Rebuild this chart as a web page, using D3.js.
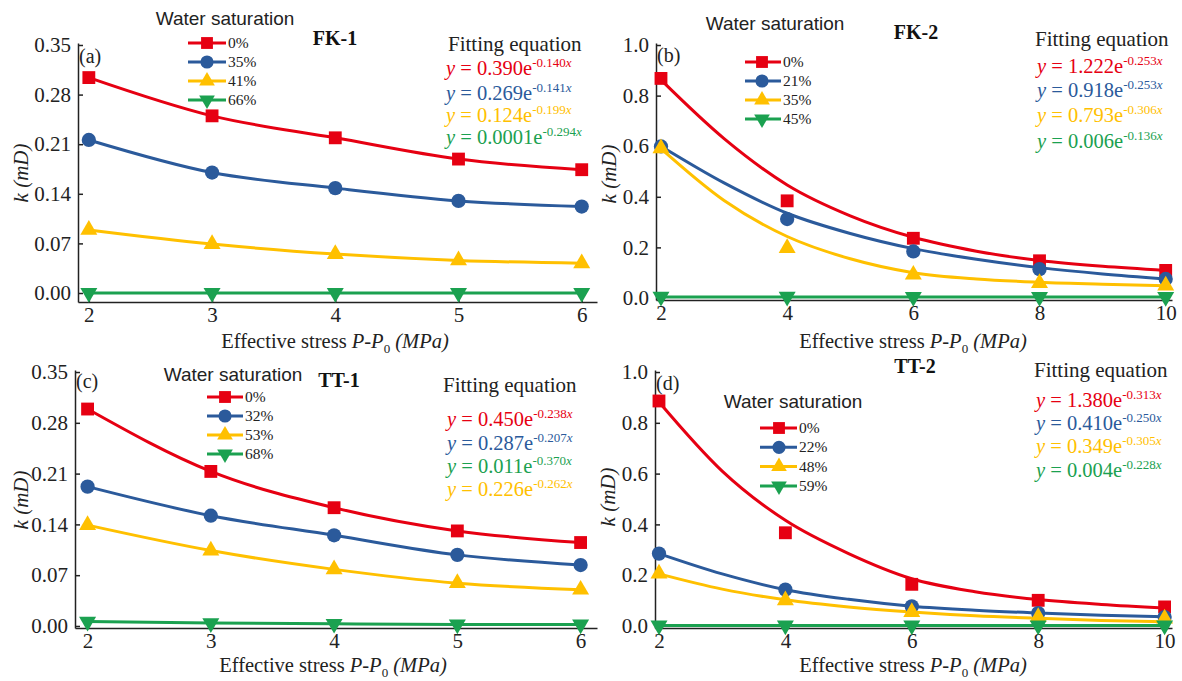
<!DOCTYPE html>
<html>
<head>
<meta charset="utf-8">
<script src="https://cdn.jsdelivr.net/npm/d3@7"></script>
<style>
    body { margin: 0; background: #fff; }
    svg { display: block; }
</style>
</head>
<body>
<script>
// permeability vs effective stress, four cores, four water saturations each

// stress steps on the x axis
var stressShort = [2, 3, 4, 5, 6];
var stressLong = [2, 4, 6, 8, 10];
var fitStress = [2, 3, 4, 5, 6, 7, 8, 9, 10];

// legend labels (water saturation)
var satFK1 = ["0%", "35%", "41%", "66%"];
var satFK2 = ["0%", "21%", "35%", "45%"];
var satTT1 = ["0%", "32%", "53%", "68%"];
var satTT2 = ["0%", "22%", "48%", "59%"];

// measured k (mD), one row per saturation
var kFK1 = [
    [0.304, 0.250, 0.219, 0.189, 0.174],
    [0.216, 0.170, 0.148, 0.130, 0.122],
    [0.089, 0.069, 0.055, 0.046, 0.042],
    [0.000, 0.000, 0.000, 0.000, 0.000]
];
var kFK2 = [
    [0.868, 0.384, 0.236, 0.147, 0.109],
    [0.599, 0.312, 0.184, 0.114, 0.075],
    [0.592, 0.197, 0.092, 0.059, 0.049],
    [0.005, 0.005, 0.004, 0.004, 0.004]
];
var kTT1 = [
    [0.299, 0.213, 0.163, 0.131, 0.115],
    [0.192, 0.152, 0.125, 0.098, 0.084],
    [0.139, 0.104, 0.078, 0.059, 0.050],
    [0.006, 0.004, 0.003, 0.002, 0.002]
];
var kTT2 = [
    [0.886, 0.367, 0.164, 0.101, 0.075],
    [0.285, 0.143, 0.077, 0.051, 0.035],
    [0.206, 0.101, 0.055, 0.035, 0.029],
    [0.002, 0.002, 0.002, 0.002, 0.002]
];

var fitFK2 = [
    [0.862, 0.630, 0.447, 0.325, 0.240, 0.185, 0.148, 0.125, 0.109],
    [0.600, 0.455, 0.335, 0.255, 0.195, 0.153, 0.120, 0.095, 0.075],
    [0.590, 0.385, 0.243, 0.155, 0.100, 0.075, 0.062, 0.054, 0.048],
    [0.004, 0.004, 0.004, 0.004, 0.004, 0.004, 0.004, 0.004, 0.004]
];
var fitTT2 = [
    [0.882, 0.610, 0.416, 0.285, 0.186, 0.135, 0.104, 0.085, 0.071],
    [0.285, 0.205, 0.143, 0.105, 0.078, 0.062, 0.051, 0.042, 0.036],
    [0.205, 0.145, 0.103, 0.075, 0.055, 0.040, 0.030, 0.022, 0.017],
    [0.002, 0.002, 0.002, 0.002, 0.002, 0.002, 0.002, 0.002, 0.002]
];

// fitting equations: [coefficient, exponent, series index for colour]
var eqFK1 = [["0.390", "-0.140", 0], ["0.269", "-0.141", 1], ["0.124", "-0.199", 2], ["0.0001", "-0.294", 3]];
var eqFK2 = [["1.222", "-0.253", 0], ["0.918", "-0.253", 1], ["0.793", "-0.306", 2], ["0.006", "-0.136", 3]];
var eqTT1 = [["0.450", "-0.238", 0], ["0.287", "-0.207", 1], ["0.011", "-0.370", 3], ["0.226", "-0.262", 2]];
var eqTT2 = [["1.380", "-0.313", 0], ["0.410", "-0.250", 1], ["0.349", "-0.305", 2], ["0.004", "-0.228", 3]];

// tick labels
var yTicksSmall = [0, 0.07, 0.14, 0.21, 0.28, 0.35];
var yTicksLarge = [0, 0.2, 0.4, 0.6, 0.8, 1.0];

var colors = ["#E60012", "#2B5A9B", "#FFC000", "#1BA150"];
var symbols = [d3.symbolSquare, d3.symbolCircle, d3.symbolTriangle, d3.symbolTriangle];
var symSize = [165, 160, 125, 125];
var serif = "'Liberation Serif', 'Times New Roman', serif";
var sans = "'Liberation Sans', Arial, sans-serif";

var svg = d3.select("body").append("svg")
    .attr("width", 1182)
    .attr("height", 681);

// panel layout (pixel positions only)
var panels = [
    { tag: "(a)", name: "FK-1", sat: satFK1, xs: stressShort, k: kFK1, fit: null, eq: eqFK1,
      xd: [1.912, 6.124], yd: [-0.0127, 0.3528], yt: yTicksSmall, yf: ".2f", xt: stressShort,
      l: 78, r: 597, t: 43, b: 302, tagY: 63, title: [335, 45], ws: [225, 25],
      leg: { mx: 207, x0: 188, x1: 226, tx: 228, y0: 43, dy: 19 },
      fitT: [448, 51], eqX: 446, eqY: [75, 100, 122, 144], yl: [28, 173], xl: [335, 348] },
    { tag: "(b)", name: "FK-2", sat: satFK2, xs: stressLong, k: kFK2, fit: fitFK2, eq: eqFK2,
      xd: [1.921, 10.1], yd: [-0.008, 1.008], yt: yTicksLarge, yf: ".1f", xt: stressLong,
      l: 656, r: 1172, t: 43, b: 300, tagY: 62, title: [916, 39], ws: [775, 30],
      leg: { mx: 762, x0: 745, x1: 781, tx: 783, y0: 62, dy: 19 },
      fitT: [1035, 46], eqX: 1037, eqY: [73, 97, 122, 148], yl: [616, 174], xl: [913, 348] },
    { tag: "(c)", name: "TT-1", sat: satTT1, xs: stressShort, k: kTT1, fit: null, eq: eqTT1,
      xd: [1.898, 6.133], yd: [-0.0028, 0.3528], yt: yTicksSmall, yf: ".2f", xt: stressShort,
      l: 75, r: 597, t: 370, b: 628, tagY: 388, title: [339, 387], ws: [233, 381],
      leg: { mx: 225, x0: 207, x1: 243, tx: 245, y0: 397, dy: 19 },
      fitT: [443, 392], eqX: 447, eqY: [426, 450, 473, 496], yl: [28, 500], xl: [333, 672] },
    { tag: "(d)", name: "TT-2", sat: satTT2, xs: stressLong, k: kTT2, fit: fitTT2, eq: eqTT2,
      xd: [1.937, 10.117], yd: [-0.008, 1.008], yt: yTicksLarge, yf: ".1f", xt: stressLong,
      l: 655, r: 1172, t: 370, b: 628, tagY: 390, title: [915, 373], ws: [793, 408],
      leg: { mx: 779, x0: 760, x1: 797, tx: 799, y0: 428, dy: 19.3 },
      fitT: [1034, 377], eqX: 1036, eqY: [407, 430, 453, 477], yl: [615, 497], xl: [913, 672] }
];

function symbolPath(i, scale) {
    return d3.symbol().type(symbols[i]).size(symSize[i] * (scale || 1))();
}

panels.forEach(function(p) {
    var g = svg.append("g");

    var x = d3.scaleLinear().domain(p.xd).range([p.l, p.r]);
    var y = d3.scaleLinear().domain(p.yd).range([p.b, p.t]);

    var line = d3.line()
        .x(function(d) { return x(d[0]); })
        .y(function(d) { return y(d[1]); })
        .curve(d3.curveMonotoneX);

    // axes
    var yAxis = g.append("g")
        .attr("transform", "translate(" + p.l + ",0)")
        .call(d3.axisLeft(y).tickValues(p.yt).tickFormat(d3.format(p.yf))
            .tickSizeInner(-5).tickSizeOuter(0).tickPadding(7));
    var xAxis = g.append("g")
        .attr("transform", "translate(0," + p.b + ")")
        .call(d3.axisBottom(x).tickValues(p.xt).tickFormat(d3.format("d"))
            .tickSizeInner(-5).tickSizeOuter(0).tickPadding(5));
    [xAxis, yAxis].forEach(function(a) {
        a.attr("font-family", serif).attr("font-size", 21);
        a.selectAll("path, line").attr("stroke", "#222").attr("stroke-width", 1.5);
        a.selectAll("text").attr("fill", "#222");
    });

    // curves + markers
    d3.range(4).forEach(function(si) {
        var pts = p.fit
            ? fitStress.map(function(s, j) { return [s, p.fit[si][j]]; })
            : p.xs.map(function(s, j) { return [s, p.k[si][j]]; });
        g.append("path")
            .datum(pts)
            .attr("d", line)
            .attr("fill", "none")
            .attr("stroke", colors[si])
            .attr("stroke-width", 3);
    });
    d3.range(4).forEach(function(si) {
        g.selectAll(".m" + si)
            .data(p.xs.map(function(s, j) { return [s, p.k[si][j]]; }))
            .enter()
            .append("path")
            .attr("d", symbolPath(si))
            .attr("transform", function(d) {
                return "translate(" + x(d[0]) + "," + y(d[1]) + ")" + (si === 3 ? " rotate(180)" : "");
            })
            .attr("fill", colors[si]);
    });

    // axis titles
    g.append("text")
        .attr("transform", "translate(" + p.yl[0] + "," + p.yl[1] + ") rotate(-90)")
        .attr("text-anchor", "middle")
        .attr("font-family", serif)
        .attr("font-size", 21)
        .attr("font-style", "italic")
        .attr("fill", "#222")
        .text("k (mD)");

    var xt = g.append("text")
        .attr("x", p.xl[0])
        .attr("y", p.xl[1])
        .attr("text-anchor", "middle")
        .attr("font-family", serif)
        .attr("font-size", 20.5)
        .attr("fill", "#222");
    xt.append("tspan").text("Effective stress ");
    xt.append("tspan").attr("font-style", "italic").text("P-P");
    xt.append("tspan").attr("font-size", 13).attr("dy", 5).text("0");
    xt.append("tspan").attr("font-style", "italic").attr("dy", -5).text(" (MPa)");

    // panel tag and core name
    g.append("text")
        .attr("x", p.l + 1).attr("y", p.tagY)
        .attr("font-family", serif).attr("font-size", 20).attr("fill", "#222")
        .text(p.tag);
    g.append("text")
        .attr("x", p.title[0]).attr("y", p.title[1])
        .attr("text-anchor", "middle")
        .attr("font-family", serif).attr("font-size", 20).attr("font-weight", "bold").attr("fill", "#111")
        .text(p.name);

    // legend
    g.append("text")
        .attr("x", p.ws[0]).attr("y", p.ws[1])
        .attr("text-anchor", "middle")
        .attr("font-family", sans).attr("font-size", 19).attr("fill", "#222")
        .text("Water saturation");
    p.sat.forEach(function(s, si) {
        var ly = p.leg.y0 + si * p.leg.dy;
        g.append("line")
            .attr("x1", p.leg.x0).attr("x2", p.leg.x1)
            .attr("y1", ly).attr("y2", ly)
            .attr("stroke", colors[si]).attr("stroke-width", 3);
        g.append("path")
            .attr("d", symbolPath(si, 0.85))
            .attr("transform", "translate(" + p.leg.mx + "," + ly + ")" + (si === 3 ? " rotate(180)" : ""))
            .attr("fill", colors[si]);
        g.append("text")
            .attr("x", p.leg.tx).attr("y", ly + 5)
            .attr("font-family", serif).attr("font-size", 15.5).attr("fill", "#222")
            .text(s);
    });

    // fitting equations
    g.append("text")
        .attr("x", p.fitT[0]).attr("y", p.fitT[1])
        .attr("font-family", serif).attr("font-size", 21).attr("fill", "#222")
        .text("Fitting equation");
    p.eq.forEach(function(e, i) {
        var t = g.append("text")
            .attr("x", p.eqX).attr("y", p.eqY[i])
            .attr("font-family", serif).attr("font-size", 20.5)
            .attr("fill", colors[e[2]]);
        t.append("tspan").attr("font-style", "italic").text("y");
        t.append("tspan").text(" = " + e[0] + "e");
        t.append("tspan").attr("font-size", 13).attr("dy", -8).text(e[1]);
        t.append("tspan").attr("font-size", 13).attr("font-style", "italic").text("x");
    });
});
</script>
</body>
</html>
